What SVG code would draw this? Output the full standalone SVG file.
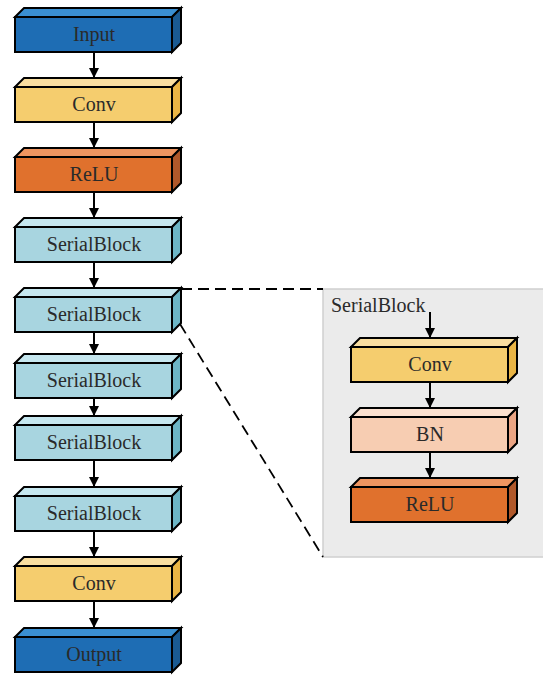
<svg xmlns="http://www.w3.org/2000/svg" width="543" height="675" viewBox="0 0 543 675">
<defs>
<style>
.e{stroke:#000;stroke-width:2;stroke-linejoin:miter}
.t{font-family:"Liberation Serif","Times New Roman",serif;font-size:20px;fill:#2a2a2a;text-anchor:middle}
.blue .f{fill:#1e6db4}.blue .u{fill:#3a8fd2}.blue .s{fill:#1a5a92}
.yel .f{fill:#f5cd6e}.yel .u{fill:#f9dea0}.yel .s{fill:#eab545}
.org .f{fill:#e0712d}.org .u{fill:#ef9560}.org .s{fill:#b0582a}
.sb .f{fill:#a8d5e0}.sb .u{fill:#c6e7ef}.sb .s{fill:#6db6c6}
.bn .f{fill:#f7cdb2}.bn .u{fill:#fbe0cf}.bn .s{fill:#eba584}
.a{stroke:#000;stroke-width:2;fill:none}
</style>
<marker id="ah" markerWidth="10" markerHeight="12" refX="10" refY="5" orient="auto" markerUnits="userSpaceOnUse" viewBox="0 0 10 10">
<path d="M0,0 L10,5 L0,10 Z" fill="#000"/>
</marker>
</defs>
<rect x="323" y="289" width="222" height="268" fill="#ebebeb" stroke="#d0d0d0" stroke-width="1.5"/>
<g id="connectors">
<path class="a" d="M94,52V78" marker-end="url(#ah)"/>
<path class="a" d="M94,122V148" marker-end="url(#ah)"/>
<path class="a" d="M94,192V218" marker-end="url(#ah)"/>
<path class="a" d="M94,262V288" marker-end="url(#ah)"/>
<path class="a" d="M94,332V354" marker-end="url(#ah)"/>
<path class="a" d="M94,398V416" marker-end="url(#ah)"/>
<path class="a" d="M94,460V487" marker-end="url(#ah)"/>
<path class="a" d="M94,531V557" marker-end="url(#ah)"/>
<path class="a" d="M94,601V628" marker-end="url(#ah)"/>
<path class="a" d="M430,312V338" marker-end="url(#ah)"/>
<path class="a" d="M430,382V408" marker-end="url(#ah)"/>
<path class="a" d="M430,452V478" marker-end="url(#ah)"/>
<path d="M181,289H323M180,324L323,557" stroke="#000" stroke-width="1.8" fill="none" stroke-dasharray="11,6"/>
</g>
<g id="n-input" class="blue">
<polygon class="e u" points="15,17 24,8 181,8 172,17"/><polygon class="e s" points="172,17 181,8 181,43 172,52"/><rect class="e f" x="15" y="17" width="157" height="35"/>
<text class="t" x="94" y="41">Input</text></g>
<g id="n-conv1" class="yel">
<polygon class="e u" points="15,87 24,78 181,78 172,87"/><polygon class="e s" points="172,87 181,78 181,113 172,122"/><rect class="e f" x="15" y="87" width="157" height="35"/>
<text class="t" x="94" y="111">Conv</text></g>
<g id="n-relu1" class="org">
<polygon class="e u" points="15,157 24,148 181,148 172,157"/><polygon class="e s" points="172,157 181,148 181,183 172,192"/><rect class="e f" x="15" y="157" width="157" height="35"/>
<text class="t" x="94" y="181">ReLU</text></g>
<g id="n-sb1" class="sb">
<polygon class="e u" points="15,227 24,218 181,218 172,227"/><polygon class="e s" points="172,227 181,218 181,253 172,262"/><rect class="e f" x="15" y="227" width="157" height="35"/>
<text class="t" x="94" y="251">SerialBlock</text></g>
<g id="n-sb2" class="sb">
<polygon class="e u" points="15,297 24,288 181,288 172,297"/><polygon class="e s" points="172,297 181,288 181,323 172,332"/><rect class="e f" x="15" y="297" width="157" height="35"/>
<text class="t" x="94" y="321">SerialBlock</text></g>
<g id="n-sb3" class="sb">
<polygon class="e u" points="15,363 24,354 181,354 172,363"/><polygon class="e s" points="172,363 181,354 181,389 172,398"/><rect class="e f" x="15" y="363" width="157" height="35"/>
<text class="t" x="94" y="387">SerialBlock</text></g>
<g id="n-sb4" class="sb">
<polygon class="e u" points="15,425 24,416 181,416 172,425"/><polygon class="e s" points="172,425 181,416 181,451 172,460"/><rect class="e f" x="15" y="425" width="157" height="35"/>
<text class="t" x="94" y="449">SerialBlock</text></g>
<g id="n-sb5" class="sb">
<polygon class="e u" points="15,496 24,487 181,487 172,496"/><polygon class="e s" points="172,496 181,487 181,522 172,531"/><rect class="e f" x="15" y="496" width="157" height="35"/>
<text class="t" x="94" y="520">SerialBlock</text></g>
<g id="n-conv2" class="yel">
<polygon class="e u" points="15,566 24,557 181,557 172,566"/><polygon class="e s" points="172,566 181,557 181,592 172,601"/><rect class="e f" x="15" y="566" width="157" height="35"/>
<text class="t" x="94" y="590">Conv</text></g>
<g id="n-output" class="blue">
<polygon class="e u" points="15,637 24,628 181,628 172,637"/><polygon class="e s" points="172,637 181,628 181,663 172,672"/><rect class="e f" x="15" y="637" width="157" height="35"/>
<text class="t" x="94" y="661">Output</text></g>
<g id="inset-label"><text class="t" x="331" y="312" style="text-anchor:start">SerialBlock</text></g>
<g id="i-conv" class="yel">
<polygon class="e u" points="351,347 360,338 517,338 508,347"/><polygon class="e s" points="508,347 517,338 517,373 508,382"/><rect class="e f" x="351" y="347" width="157" height="35"/>
<text class="t" x="430" y="371">Conv</text></g>
<g id="i-bn" class="bn">
<polygon class="e u" points="351,417 360,408 517,408 508,417"/><polygon class="e s" points="508,417 517,408 517,443 508,452"/><rect class="e f" x="351" y="417" width="157" height="35"/>
<text class="t" x="430" y="441">BN</text></g>
<g id="i-relu" class="org">
<polygon class="e u" points="351,487 360,478 517,478 508,487"/><polygon class="e s" points="508,487 517,478 517,513 508,522"/><rect class="e f" x="351" y="487" width="157" height="35"/>
<text class="t" x="430" y="511">ReLU</text></g>
</svg>
